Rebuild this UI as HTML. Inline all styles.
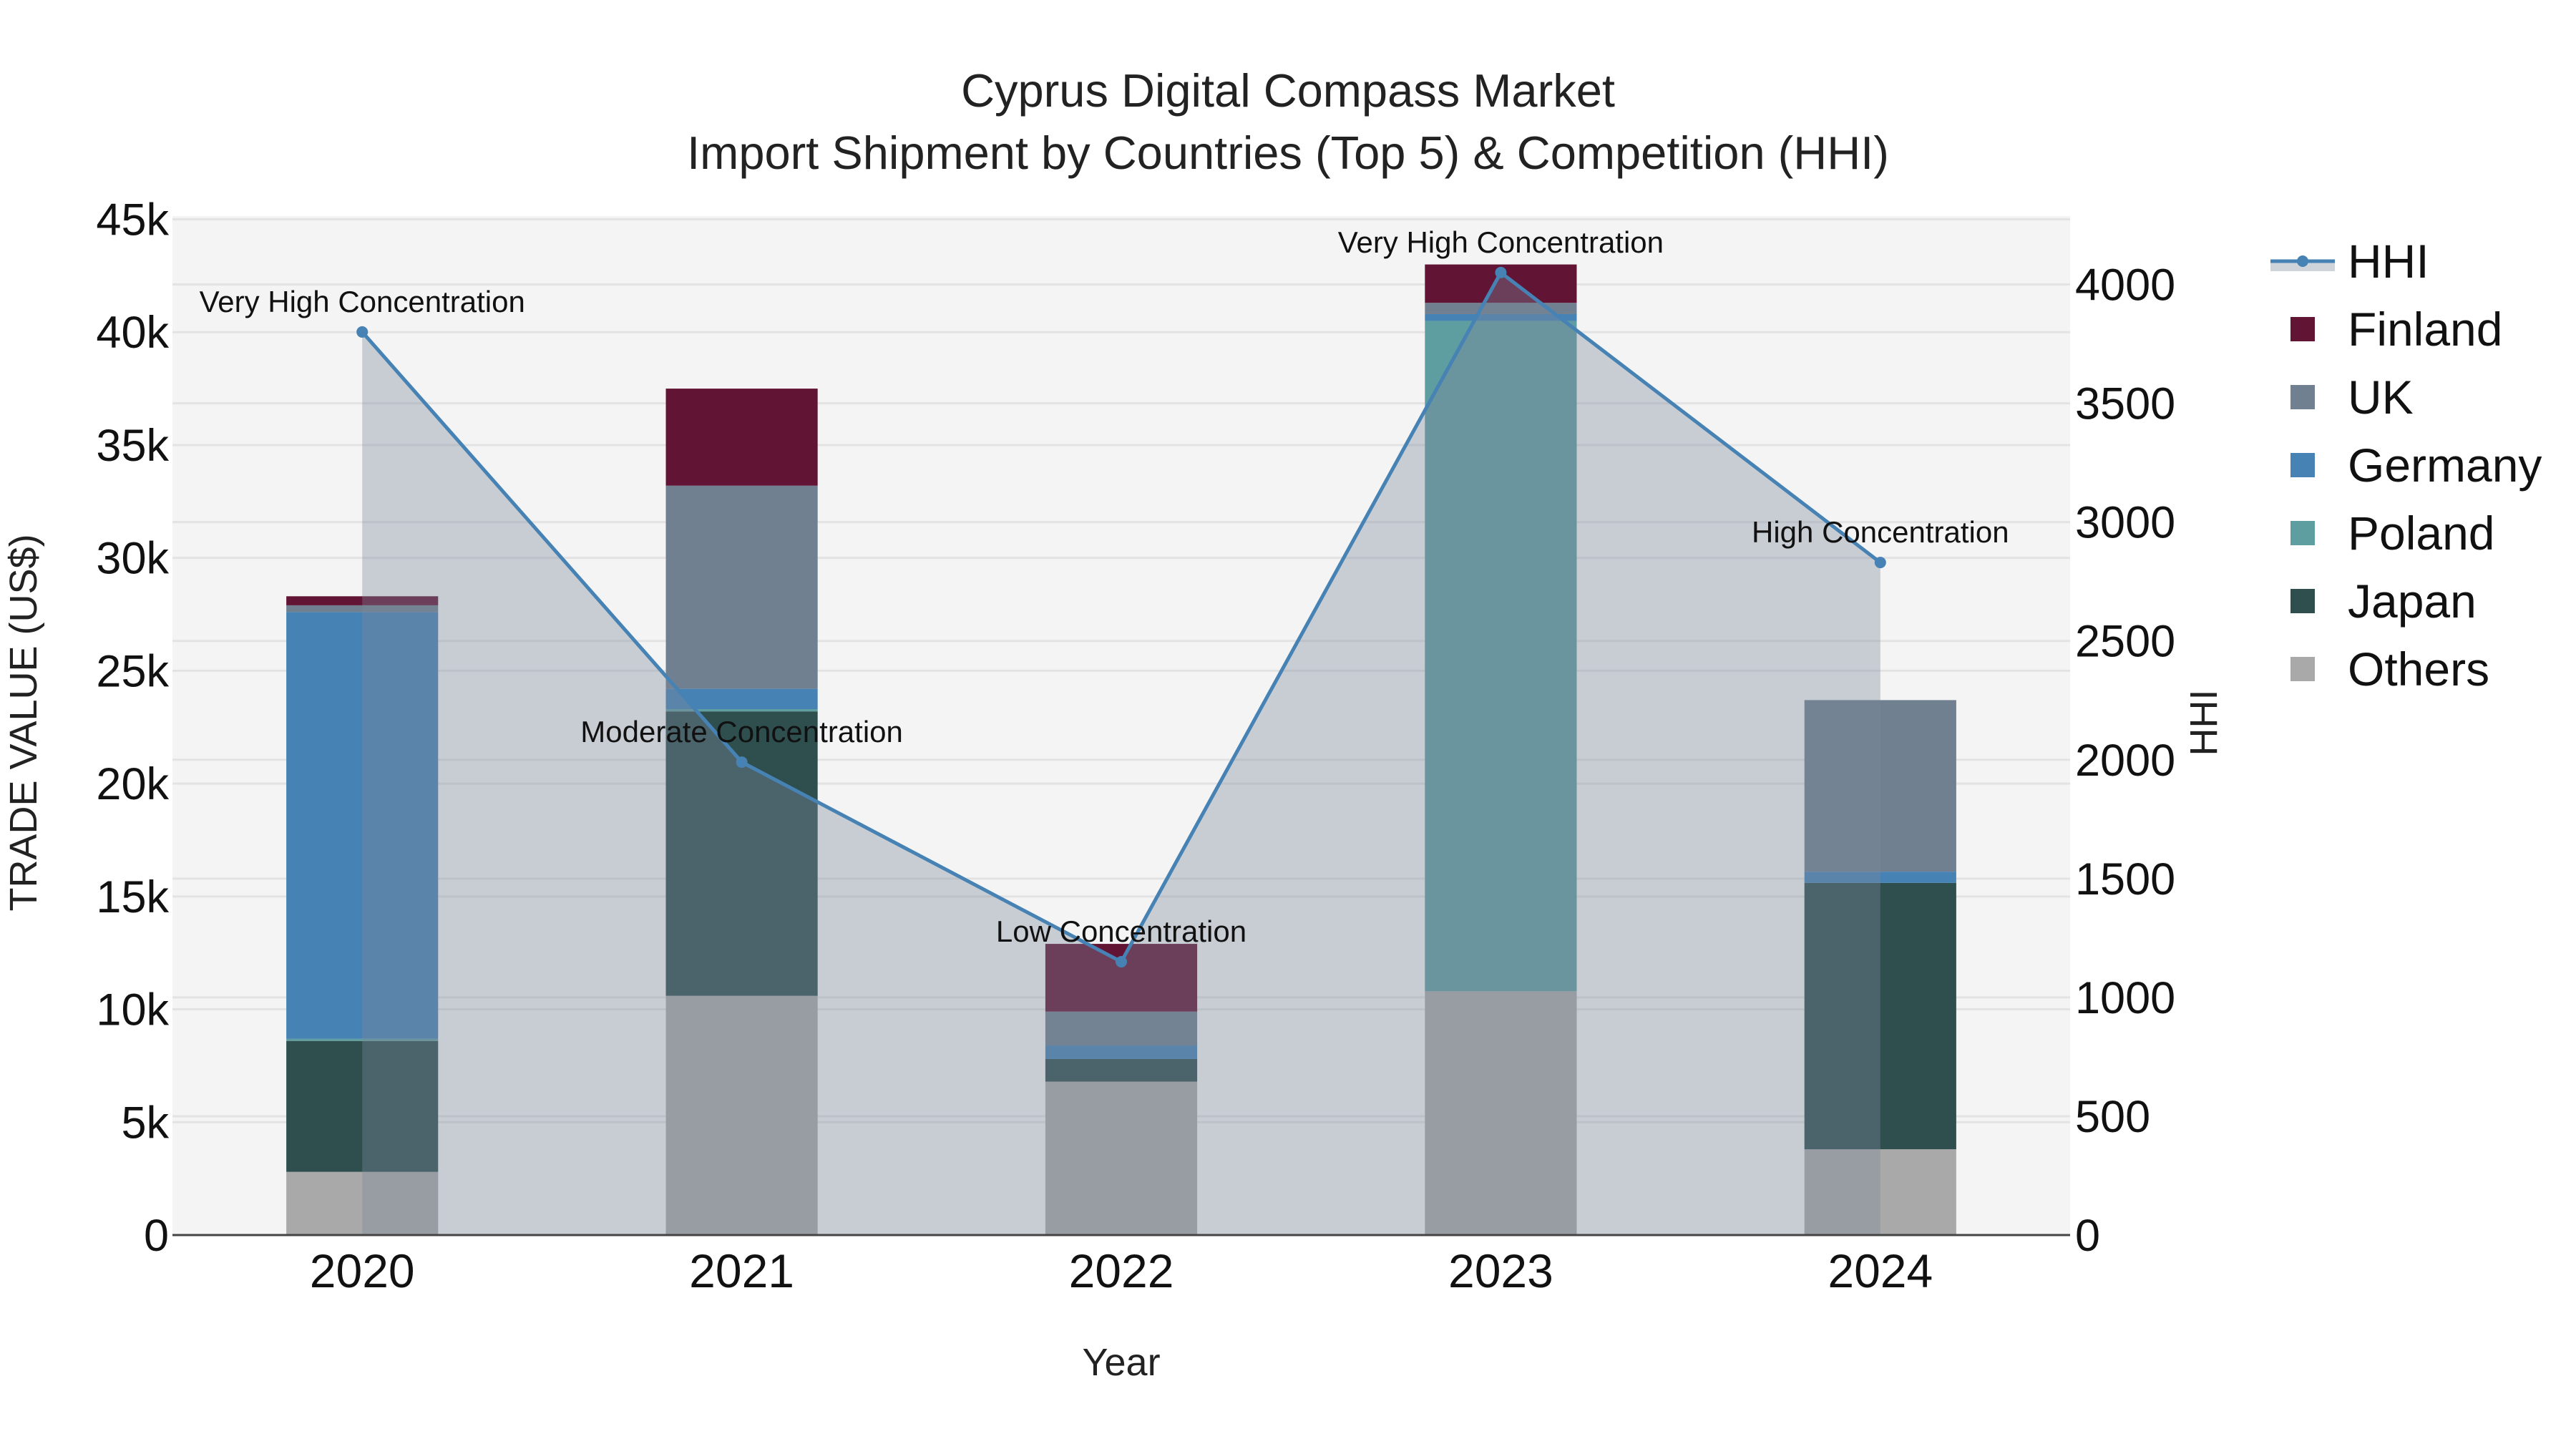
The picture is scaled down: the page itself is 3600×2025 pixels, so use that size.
<!DOCTYPE html>
<html><head><meta charset="utf-8"><style>
html,body{margin:0;padding:0;background:#fff;}
svg{display:block;font-family:"Liberation Sans",Arial,sans-serif;}
</style></head><body>
<svg id="chart" width="3600" height="2025" viewBox="0 0 3600 2025" xmlns="http://www.w3.org/2000/svg">
<rect x="241" y="302" width="2652" height="1424" fill="#f4f4f4"/>
<g id="grid"></g>
<g id="bars"></g>
<g id="area"></g>
<g id="line"></g>
<g id="axes"></g>
<g id="annots"></g>
<text x="1800" y="149" font-size="65" text-anchor="middle" fill="#222">Cyprus Digital Compass Market</text>
<text x="1800" y="236" font-size="65" text-anchor="middle" fill="#222">Import Shipment by Countries (Top 5) &amp; Competition (HHI)</text>
<text x="1567" y="1922" font-size="54" text-anchor="middle" fill="#222">Year</text>
<text transform="translate(51,1010) rotate(-90)" font-size="54" text-anchor="middle" fill="#222">TRADE VALUE (US$)</text>
<text transform="translate(3098,1010) rotate(-90)" font-size="54" text-anchor="middle" fill="#222">HHI</text>
<g id="legend"></g>
</svg>
<script>
const years = ["2020","2021","2022","2023","2024"];
const seriesNames = ["Others","Japan","Poland","Germany","UK","Finland"];
const others  = [2800, 10600, 6800, 10800, 3800];
const japan   = [5800, 12600, 1000, 0, 11800];
const poland  = [100, 100, 0, 29700, 0];
const germany = [18900, 900, 600, 300, 500];
const uk      = [300, 9000, 1500, 500, 7600];
const finland = [400, 4300, 3000, 1700, 0];
const hhi = [3800, 1990, 1150, 4050, 2830];
const hhiLabels = ["Very High Concentration","Moderate Concentration","Low Concentration","Very High Concentration","High Concentration"];
const yTicks = [0,5000,10000,15000,20000,25000,30000,35000,40000,45000];
const yTickLabels = ["0","5k","10k","15k","20k","25k","30k","35k","40k","45k"];
const y2Ticks = [0,500,1000,1500,2000,2500,3000,3500,4000];

const colors = {Others:"#a9a9a9",Japan:"#2f4f4f",Poland:"#5f9ea0",Germany:"#4682b4",UK:"#708090",Finland:"#611434"};
const seriesData = [others,japan,poland,germany,uk,finland];
const NS="http://www.w3.org/2000/svg";
const X0=241, X1=2893, Y0=1726, YT=306.5;
const xScale = i => X0 + (i+0.5)*(X1-X0)/years.length;
const bw = 0.4*(X1-X0)/years.length;
const yScale = v => Y0 - v/45000*(Y0-YT);
const y2Scale = v => Y0 - v/4274*(Y0-YT);
function mk(tag, attrs, parent){const e=document.createElementNS(NS,tag);for(const k in attrs)e.setAttribute(k,attrs[k]);parent.appendChild(e);return e;}
const grid=document.getElementById('grid');
yTicks.forEach(t=>{const l=mk('line',{x1:X0,x2:X1,y1:yScale(t),y2:yScale(t),stroke:'#e3e3e3','stroke-width':3},grid);

});
y2Ticks.forEach(t=>{const l=mk('line',{x1:X0,x2:X1,y1:y2Scale(t),y2:y2Scale(t),stroke:'#e3e3e3','stroke-width':3},grid);

});
const bars=document.getElementById('bars');
years.forEach((yr,i)=>{let base=0;seriesData.forEach((s,j)=>{const v=s[i];if(v<=0)return;
const r=mk('rect',{x:xScale(i)-bw/2,y:yScale(base+v),width:bw,height:yScale(base)-yScale(base+v),fill:colors[seriesNames[j]]},bars);


base+=v;});});
const area=document.getElementById('area');
let d='M'+xScale(0)+','+Y0;hhi.forEach((h,i)=>{d+=' L'+xScale(i)+','+y2Scale(h);});d+=' L'+xScale(hhi.length-1)+','+Y0+' Z';
const ap=mk('path',{d:d,fill:'rgba(126,136,155,0.37)'},area);


const line=document.getElementById('line');
const pts=hhi.map((h,i)=>xScale(i)+','+y2Scale(h)).join(' ');
const pl=mk('polyline',{points:pts,fill:'none',stroke:'#4682b4','stroke-width':5},line);


hhi.forEach((h,i)=>{const c=mk('circle',{cx:xScale(i),cy:y2Scale(h),r:8,fill:'#4682b4'},line);

});
const annots=document.getElementById('annots');
hhi.forEach((h,i)=>{const t=mk('text',{x:xScale(i),y:y2Scale(h)-28,'font-size':42,'text-anchor':'middle',fill:'#111'},annots);t.textContent=hhiLabels[i];

});
const axes=document.getElementById('axes');
const ax=mk('line',{x1:X0,x2:X1,y1:Y0,y2:Y0,stroke:'#444','stroke-width':3},axes);


yTicks.forEach((t,i)=>{const e=mk('text',{x:236,y:yScale(t)+22,'font-size':63,'text-anchor':'end',fill:'#111'},axes);e.textContent=yTickLabels[i];

});
y2Ticks.forEach(t=>{const e=mk('text',{x:2900,y:y2Scale(t)+22,'font-size':63,'text-anchor':'start',fill:'#111'},axes);e.textContent=String(t);

});
years.forEach((yr,i)=>{const e=mk('text',{x:xScale(i),y:1799,'font-size':66,'text-anchor':'middle',fill:'#111'},axes);e.textContent=yr;

});
const legend=document.getElementById('legend');
const legItems=["HHI","Finland","UK","Germany","Poland","Japan","Others"];
legItems.forEach((n,k)=>{const cy=365+k*95;const g=mk('g',{},legend);


if(n==="HHI"){mk('rect',{x:3173,y:cy,width:90,height:14,fill:'rgba(126,136,155,0.37)'},g);
mk('line',{x1:3173,x2:3263,y1:cy,y2:cy,stroke:'#4682b4','stroke-width':5},g);
mk('circle',{cx:3218,cy:cy,r:8,fill:'#4682b4'},g);}
else{mk('rect',{x:3201,y:cy-17,width:34,height:34,fill:colors[n]},g);}
const t=mk('text',{x:3281,y:cy+23,'font-size':66,fill:'#111'},g);t.textContent=n;});
</script>
</body></html>
